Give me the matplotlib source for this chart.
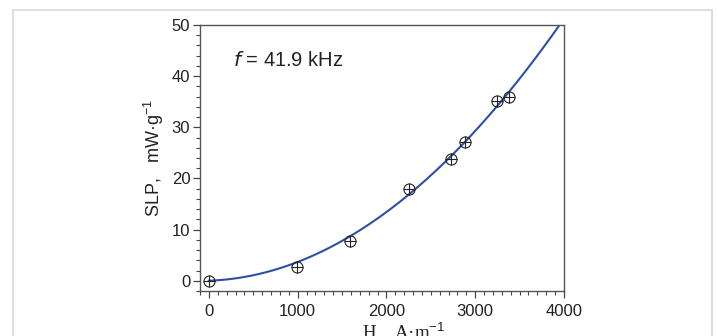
import numpy as np
import matplotlib.pyplot as plt
from matplotlib.patches import Rectangle
from matplotlib.ticker import MultipleLocator

# measured points
H = [0, 990, 1590, 2250, 2730, 2880, 3240, 3380]
SLP = [0.0, 2.6, 7.8, 18.0, 23.9, 27.1, 35.1, 35.9]

# fitted curve
H_fit = [0, 250, 500, 750, 1000, 1250, 1500, 1750, 2000, 2250, 2500, 2750,
         3000, 3250, 3500, 3750, 3950]
SLP_fit = [0.0, 0.35, 1.08, 2.2, 3.7, 5.55, 7.8, 10.4, 13.4, 16.8, 20.6, 24.8,
           29.3, 34.2, 39.5, 45.2, 50.0]

plt.rcParams['font.family'] = ['Liberation Sans', 'DejaVu Sans']
plt.rcParams['mathtext.fontset'] = 'custom'
plt.rcParams['mathtext.rm'] = 'Liberation Sans'

fig = plt.figure(figsize=(7.17, 3.36), dpi=100)
ax = fig.add_axes([200/717, 1-291/336, (564-200)/717, (291-25)/336])

# light grey frame around the figure
fig.patches.append(Rectangle((13/717, -0.1), (712-13)/717, 1.1-10/336,
                             transform=fig.transFigure, fill=False,
                             edgecolor='#d8d8d8', linewidth=1.2))

# smooth fit line through the curve readings
coef = np.polyfit(H_fit, SLP_fit, 2)
hh = np.linspace(0, 4000, 200)
ax.plot(hh, np.polyval(coef, hh), color='#2f4fa3', linewidth=1.5, zorder=2)

ax.plot(H, SLP, linestyle='none', marker='o', markersize=8,
        markerfacecolor='none', markeredgecolor='#222222', markeredgewidth=0.8, zorder=3)
ax.plot(H, SLP, linestyle='none', marker='+', markersize=8,
        markeredgecolor='#222222', markeredgewidth=0.8, zorder=3)

ax.set_xlim(-100, 4000)
ax.set_ylim(-2, 50)
ax.xaxis.set_major_locator(MultipleLocator(1000))
ax.xaxis.set_minor_locator(MultipleLocator(100))
ax.yaxis.set_major_locator(MultipleLocator(10))
ax.yaxis.set_minor_locator(MultipleLocator(2))
ax.tick_params(which='major', length=5, width=0.9, color='#444444', labelsize=12,
               labelcolor='#222222')
ax.tick_params(axis='x', pad=4)
ax.tick_params(axis='y', pad=2)
ax.tick_params(which='minor', length=3, width=0.8, color='#444444')
for s in ax.spines.values():
    s.set_color('#555555')
    s.set_linewidth(1.0)

ax.set_ylabel('SLP,   mW·g$^{-1}$', fontsize=13, color='#222222', labelpad=4)
ax.set_xlabel('H,   A·m$^{-1}$', fontsize=13.5, color='#222222', labelpad=3,
              family=['Liberation Serif', 'DejaVu Serif'])
ax.xaxis.set_label_coords(0.56, -0.11)
ax.xaxis.label.set_va('top')

ax.text(0.09, 0.865, '$f$ = 41.9 kHz', transform=ax.transAxes, fontsize=14.5,
        color='#222222', ha='left', va='center')

fig.savefig('out.png', dpi=100)
